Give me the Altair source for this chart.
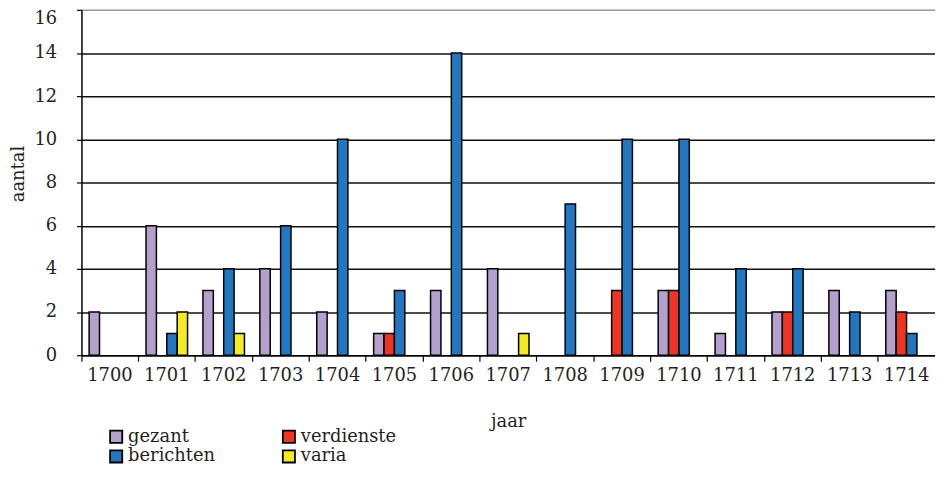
import altair as alt
import pandas as pd

years = [str(y) for y in range(1700, 1715)]
series = ["gezant", "verdienste", "berichten", "varia"]
colors = ["#B4A0CC", "#EE3524", "#2277C0", "#F5EB22"]

gezant     = [2, 6, 3, 4, 2, 1, 3, 4, 0, 0, 3, 1, 2, 3, 3]
verdienste = [0, 0, 0, 0, 0, 1, 0, 0, 0, 3, 3, 0, 2, 0, 2]
berichten  = [0, 1, 4, 6, 10, 3, 14, 0, 7, 10, 10, 4, 4, 2, 1]
varia      = [0, 2, 1, 0, 0, 0, 0, 1, 0, 0, 0, 0, 0, 0, 0]

values = {"gezant": gezant, "verdienste": verdienste, "berichten": berichten, "varia": varia}
rows = []
for s in series:
    for y, v in zip(years, values[s]):
        rows.append({"jaar": y, "reeks": s, "aantal": v})
df = pd.DataFrame(rows)

FONT = "DejaVu Serif"
TXT = "#231F20"

chart = alt.Chart(df).transform_filter("datum.aantal > 0").mark_bar(
    stroke="black", strokeWidth=1.5
).encode(
    x=alt.X("jaar:N", sort=years,
            scale=alt.Scale(domain=years, paddingInner=0, paddingOuter=0),
            axis=alt.Axis(title="jaar", labelAngle=0, bandPosition=0, grid=False,
                          domainColor="black", domainWidth=1.5,
                          tickColor="black", tickWidth=1.2, tickSize=6,
                          labelPadding=6, labelFontSize=18, labelFont=FONT, labelColor=TXT,
                          titleFont=FONT, titleFontSize=18, titleFontWeight="normal",
                          titleColor=TXT, titleY=72, titleBaseline="alphabetic")),
    xOffset=alt.XOffset("reeks:N", sort=series,
                        scale=alt.Scale(domain=series, paddingInner=0, paddingOuter=0.74)),
    y=alt.Y("aantal:Q",
            scale=alt.Scale(domain=[0, 16], nice=False),
            axis=alt.Axis(title="aantal", values=list(range(0, 17, 2)),
                          grid=True, gridWidth=1.5,
                          gridColor={"condition": {"test": "datum.value === 16", "value": "#9a9a9a"}, "value": "#111111"},
                          labelBaseline={"condition": {"test": "datum.value === 16", "value": "top"}, "value": "middle"},
                          domainColor="black", domainWidth=1.5,
                          tickColor="black", tickWidth=1.2, tickSize=5,
                          labelPadding=20, labelFontSize=18, labelFont=FONT, labelColor=TXT,
                          titleFont=FONT, titleFontSize=18, titleFontWeight="normal",
                          titleColor=TXT, titleX=-58, titleY=165, titleAngle=-90,
                          titleBaseline="alphabetic", titleAlign="center")),
    color=alt.Color("reeks:N", sort=series,
                    scale=alt.Scale(domain=series, range=colors),
                    legend=alt.Legend(title=None, orient="none", legendX=26, legendY=421,
                                      columns=2, direction="horizontal",
                                      symbolType="square", symbolSize=150,
                                      symbolStrokeColor="black", symbolStrokeWidth=1.8,
                                      symbolOpacity=1, labelOffset=3,
                                      labelFont=FONT, labelFontSize=18, labelColor=TXT,
                                      columnPadding=64, rowPadding=0)),
).properties(
    width=860, height=348,
    autosize=alt.AutoSizeParams(type="none"),
    padding={"left": 74, "top": 0, "right": 0, "bottom": 130},
).configure_view(stroke=None)

chart.save("out.html", embed_options={"renderer": "svg", "actions": False})
